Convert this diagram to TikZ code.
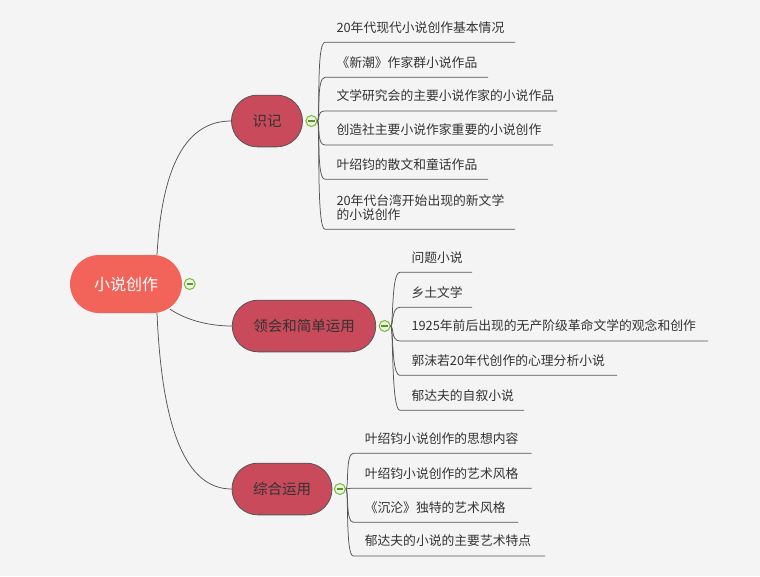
\documentclass[tikz,border=0pt]{standalone}
\usepackage{fontspec}
\setmainfont{Noto Sans CJK SC}
\usetikzlibrary{positioning}
\definecolor{paper}{HTML}{F4F4F4}
\definecolor{rootred}{HTML}{F2645A}
\definecolor{topicred}{HTML}{C84A5B}
\definecolor{inkgray}{HTML}{333333}
\definecolor{linegray}{HTML}{555555}
\definecolor{foldgreen}{HTML}{78B83C}
\definecolor{foldfill}{HTML}{EAF6DC}
\tikzset{
  rootnode/.style={fill=rootred, text=white, rounded corners=29pt, minimum width=112pt, minimum height=58pt, font=\fontsize{16}{18}\selectfont},
  topic/.style={draw=linegray, line width=0.8pt, fill=topicred, text=inkgray, rounded corners=25.8pt, minimum height=51.7pt, inner xsep=21pt, font=\fontsize{14.5}{17}\selectfont},
  leaf/.style={anchor=south west, inner xsep=11.5pt, inner ysep=9pt, outer sep=0pt, align=left, text=inkgray, font=\fontsize{12.8}{14}\selectfont},
  fold/.style={circle, draw=foldgreen, fill=foldfill, line width=1pt, minimum size=11pt, inner sep=0pt,
    path picture={\draw[foldgreen!80!black, line width=1.1pt] ([xshift=-3.2pt]path picture bounding box.center) -- ([xshift=3.2pt]path picture bounding box.center);}},
  link/.style={draw=linegray, line width=0.75pt}
}
\begin{document}
\begin{tikzpicture}[x=1pt,y=-1pt]
\fill[paper] (0,0) rectangle (760,576);
\useasboundingbox (0,0) rectangle (760,576);
\node[rootnode] (root) at (126,284) {小说创作};
\node[topic] (ident) at (267,121) {识记};
\node[topic] (comp) at (304,326) {领会和简单运用};
\node[topic] (appl) at (282,489) {综合运用};
\node[fold, right=1.5pt of root] (root-f) {};
\node[fold, right=2.5pt of ident] (ident-f) {};
\node[fold, right=2.5pt of comp] (comp-f) {};
\node[fold, right=1.5pt of appl] (appl-f) {};
\node[leaf, text width=167pt] (ident-1) at (325,42.3) {20年代现代小说创作基本情况};
\node[leaf, text width=140pt] (ident-2) at (325,77.3) {《新潮》作家群小说作品};
\node[leaf, text width=209pt] (ident-3) at (325,111) {文学研究会的主要小说作家的小说作品};
\node[leaf, text width=205pt] (ident-4) at (325,145) {创造社主要小说作家重要的小说创作};
\node[leaf, text width=140pt] (ident-5) at (325,179.3) {叶绍钧的散文和童话作品};
\node[leaf, text width=167pt] (ident-6) at (325,229.3) {20年代台湾开始出现的新文学\\的小说创作};
\node[leaf, text width=49pt] (comp-1) at (400,272.3) {问题小说};
\node[leaf, text width=49pt] (comp-2) at (400,307.3) {乡土文学};
\node[leaf, text width=285pt] (comp-3) at (400,341) {1925年前后出现的无产阶级革命文学的观念和创作};
\node[leaf, text width=194pt] (comp-4) at (400,375.3) {郭沫若20年代创作的心理分析小说};
\node[leaf, text width=101pt] (comp-5) at (400,410.3) {郁达夫的自叙小说};
\node[leaf, text width=155.4pt] (appl-1) at (353.3,453.3) {叶绍钧小说创作的思想内容};
\node[leaf, text width=155.4pt] (appl-2) at (353.3,488.3) {叶绍钧小说创作的艺术风格};
\node[leaf, text width=142pt] (appl-3) at (353.3,522.3) {《沉沦》独特的艺术风格};
\node[leaf, text width=168.7pt] (appl-4) at (353.3,556) {郁达夫的小说的主要艺术特点};
\draw[link] ([xshift=31pt]root.north) .. controls +(5,-89) and +(-45,0) .. (ident.west);
\draw[link] ([shift={(44pt,4pt)}]root.south) .. controls +(15,10) and +(-25,0) .. (comp.west);
\draw[link] ([xshift=31pt]root.south) .. controls +(5,118) and +(-45,0) .. (appl.west);
\draw[link] (ident-f.east) .. controls +(3,0) and +(-9,0) .. (ident-1.south west) -- (ident-1.south east);
\draw[link] (ident-f.east) .. controls +(3,0) and +(-9,0) .. (ident-2.south west) -- (ident-2.south east);
\draw[link] (ident-f.east) .. controls +(3,0) and +(-9,0) .. (ident-3.south west) -- (ident-3.south east);
\draw[link] (ident-f.east) .. controls +(3,0) and +(-9,0) .. (ident-4.south west) -- (ident-4.south east);
\draw[link] (ident-f.east) .. controls +(3,0) and +(-9,0) .. (ident-5.south west) -- (ident-5.south east);
\draw[link] (ident-f.east) .. controls +(3,0) and +(-9,0) .. (ident-6.south west) -- (ident-6.south east);
\draw[link] (comp-f.east) .. controls +(3,0) and +(-9,0) .. (comp-1.south west) -- (comp-1.south east);
\draw[link] (comp-f.east) .. controls +(3,0) and +(-9,0) .. (comp-2.south west) -- (comp-2.south east);
\draw[link] (comp-f.east) .. controls +(3,0) and +(-9,0) .. (comp-3.south west) -- (comp-3.south east);
\draw[link] (comp-f.east) .. controls +(3,0) and +(-9,0) .. (comp-4.south west) -- (comp-4.south east);
\draw[link] (comp-f.east) .. controls +(3,0) and +(-9,0) .. (comp-5.south west) -- (comp-5.south east);
\draw[link] (appl-f.east) .. controls +(3,0) and +(-8,0) .. (appl-1.south west) -- (appl-1.south east);
\draw[link] (appl-f.east) .. controls +(3,0) and +(-8,0) .. (appl-2.south west) -- (appl-2.south east);
\draw[link] (appl-f.east) .. controls +(3,0) and +(-8,0) .. (appl-3.south west) -- (appl-3.south east);
\draw[link] (appl-f.east) .. controls +(3,0) and +(-8,0) .. (appl-4.south west) -- (appl-4.south east);
\end{tikzpicture}
\end{document}
